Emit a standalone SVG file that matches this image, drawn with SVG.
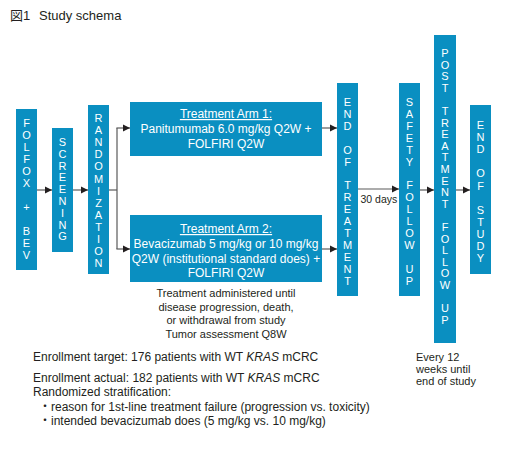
<svg xmlns="http://www.w3.org/2000/svg" width="506" height="449" viewBox="0 0 506 449">
<style>
text{font-family:"Liberation Sans","Noto Sans CJK JP",Arial,sans-serif;fill:#231f20}
.box{fill:#0a8fc1}
.v{font-size:11px;fill:#fff;text-anchor:middle}
.w{font-size:12px;fill:#fff;text-anchor:middle}
.c{font-size:11px;text-anchor:middle}
.t{font-size:12px}
.ln{stroke:#5a5a5a;stroke-width:1.2;fill:none}
</style>
<defs>
<marker id="ah" markerUnits="userSpaceOnUse" markerWidth="8" markerHeight="8" refX="7" refY="4" orient="auto">
<path d="M0,0.5 L7,4 L0,7.5 Z" fill="#231f20"/>
</marker>
</defs>
<rect width="506" height="449" fill="#fff"/>
<text x="10" y="20" style="font-size:13px">図1</text>
<text x="39" y="20" style="font-size:13px">Study schema</text>

<g id="folfox">
<rect class="box" x="16" y="109" width="21" height="161"/>
<text class="v"><tspan x="26.5" y="127">F</tspan><tspan x="26.5" y="139">O</tspan><tspan x="26.5" y="151">L</tspan><tspan x="26.5" y="163">F</tspan><tspan x="26.5" y="175">O</tspan><tspan x="26.5" y="187">X</tspan><tspan x="26.5" y="211">+</tspan><tspan x="26.5" y="235">B</tspan><tspan x="26.5" y="247">E</tspan><tspan x="26.5" y="259">V</tspan></text>
</g>
<g id="screening">
<rect class="box" x="52" y="128" width="21" height="124"/>
<text class="v"><tspan x="62.5" y="146">S</tspan><tspan x="62.5" y="157.8">C</tspan><tspan x="62.5" y="169.6">R</tspan><tspan x="62.5" y="181.4">E</tspan><tspan x="62.5" y="193.2">E</tspan><tspan x="62.5" y="205">N</tspan><tspan x="62.5" y="216.8">I</tspan><tspan x="62.5" y="228.6">N</tspan><tspan x="62.5" y="240.4">G</tspan></text>
</g>
<g id="randomization">
<rect class="box" x="88" y="105" width="21" height="169"/>
<text class="v"><tspan x="98.5" y="122">R</tspan><tspan x="98.5" y="134.1">A</tspan><tspan x="98.5" y="146.2">N</tspan><tspan x="98.5" y="158.3">D</tspan><tspan x="98.5" y="170.4">O</tspan><tspan x="98.5" y="182.5">M</tspan><tspan x="98.5" y="194.6">I</tspan><tspan x="98.5" y="206.7">Z</tspan><tspan x="98.5" y="218.8">A</tspan><tspan x="98.5" y="230.9">T</tspan><tspan x="98.5" y="243">I</tspan><tspan x="98.5" y="255.1">O</tspan><tspan x="98.5" y="267.2">N</tspan></text>
</g>
<g id="arm1">
<rect class="box" x="130" y="102" width="192" height="54"/>
<text class="w"><tspan x="226" y="118" text-decoration="underline">Treatment Arm 1:</tspan><tspan x="226" y="133">Panitumumab 6.0 mg/kg Q2W +</tspan><tspan x="226" y="147.5">FOLFIRI Q2W</tspan></text>
</g>
<g id="arm2">
<rect class="box" x="130" y="215" width="192" height="67"/>
<text class="w"><tspan x="226" y="233" text-decoration="underline">Treatment Arm 2:</tspan><tspan x="226" y="248">Bevacizumab 5 mg/kg or 10 mg/kg</tspan><tspan x="226" y="262.5">Q2W (institutional standard does) +</tspan><tspan x="226" y="277">FOLFIRI Q2W</tspan></text>
</g>
<g id="end-of-treatment">
<rect class="box" x="337" y="83" width="21" height="213"/>
<text class="v"><tspan x="347.5" y="106">E</tspan><tspan x="347.5" y="117.9">N</tspan><tspan x="347.5" y="129.8">D</tspan><tspan x="347.5" y="153.6">O</tspan><tspan x="347.5" y="165.5">F</tspan><tspan x="347.5" y="189.3">T</tspan><tspan x="347.5" y="201.2">R</tspan><tspan x="347.5" y="213.1">E</tspan><tspan x="347.5" y="225">A</tspan><tspan x="347.5" y="236.9">T</tspan><tspan x="347.5" y="248.8">M</tspan><tspan x="347.5" y="260.7">E</tspan><tspan x="347.5" y="272.6">N</tspan><tspan x="347.5" y="284.5">T</tspan></text>
</g>
<g id="safety-follow-up">
<rect class="box" x="399" y="83" width="21" height="213"/>
<text class="v"><tspan x="409.5" y="106">S</tspan><tspan x="409.5" y="117.9">A</tspan><tspan x="409.5" y="129.8">F</tspan><tspan x="409.5" y="141.7">E</tspan><tspan x="409.5" y="153.6">T</tspan><tspan x="409.5" y="165.5">Y</tspan><tspan x="409.5" y="189.3">F</tspan><tspan x="409.5" y="201.2">O</tspan><tspan x="409.5" y="213.1">L</tspan><tspan x="409.5" y="225">L</tspan><tspan x="409.5" y="236.9">O</tspan><tspan x="409.5" y="248.8">W</tspan><tspan x="409.5" y="272.6">U</tspan><tspan x="409.5" y="284.5">P</tspan></text>
</g>
<g id="post-treatment-follow-up">
<rect class="box" x="434" y="35" width="22" height="308"/>
<text class="v"><tspan x="445" y="57">P</tspan><tspan x="445" y="68.6">O</tspan><tspan x="445" y="80.2">S</tspan><tspan x="445" y="91.8">T</tspan><tspan x="445" y="115">T</tspan><tspan x="445" y="126.6">R</tspan><tspan x="445" y="138.2">E</tspan><tspan x="445" y="149.8">A</tspan><tspan x="445" y="161.4">T</tspan><tspan x="445" y="173">M</tspan><tspan x="445" y="184.6">E</tspan><tspan x="445" y="196.2">N</tspan><tspan x="445" y="207.8">T</tspan><tspan x="445" y="231">F</tspan><tspan x="445" y="242.6">O</tspan><tspan x="445" y="254.2">L</tspan><tspan x="445" y="265.8">L</tspan><tspan x="445" y="277.4">O</tspan><tspan x="445" y="289">W</tspan><tspan x="445" y="312.2">U</tspan><tspan x="445" y="323.8">P</tspan></text>
</g>
<g id="end-of-study">
<rect class="box" x="470" y="105" width="21" height="169"/>
<text class="v"><tspan x="480.5" y="129">E</tspan><tspan x="480.5" y="141.1">N</tspan><tspan x="480.5" y="153.2">D</tspan><tspan x="480.5" y="177.4">O</tspan><tspan x="480.5" y="189.5">F</tspan><tspan x="480.5" y="213.7">S</tspan><tspan x="480.5" y="225.8">T</tspan><tspan x="480.5" y="237.9">U</tspan><tspan x="480.5" y="250">D</tspan><tspan x="480.5" y="262.1">Y</tspan></text>
</g>

<g id="connectors">
<line class="ln" x1="37" y1="190" x2="52" y2="190" marker-end="url(#ah)"/>
<line class="ln" x1="73" y1="190" x2="88" y2="190" marker-end="url(#ah)"/>
<polyline class="ln" points="109,190 117,190"/>
<line class="ln" x1="117" y1="128" x2="117" y2="249"/>
<line class="ln" x1="116.4" y1="128" x2="130" y2="128" marker-end="url(#ah)"/>
<line class="ln" x1="116.4" y1="249" x2="130" y2="249" marker-end="url(#ah)"/>
<line class="ln" x1="322" y1="128" x2="337" y2="128" marker-end="url(#ah)"/>
<line class="ln" x1="322" y1="249" x2="337" y2="249" marker-end="url(#ah)"/>
<line class="ln" x1="358" y1="189" x2="399" y2="189" marker-end="url(#ah)"/>
<line class="ln" x1="420" y1="190" x2="434" y2="190" marker-end="url(#ah)"/>
<line class="ln" x1="456" y1="190" x2="470" y2="190" marker-end="url(#ah)"/>
<text x="360.5" y="203" style="font-size:10.5px">30 days</text>
</g>

<text class="c"><tspan x="226" y="297">Treatment administered until</tspan><tspan x="226" y="310.5">disease progression, death,</tspan><tspan x="226" y="324">or withdrawal from study</tspan><tspan x="226" y="337.5">Tumor assessment Q8W</tspan></text>
<text style="font-size:11px"><tspan x="416" y="361">Every 12</tspan><tspan x="416" y="373">weeks until</tspan><tspan x="416" y="385">end of study</tspan></text>
<text class="t" x="33" y="361">Enrollment target: 176 patients with WT <tspan font-style="italic">KRAS</tspan> mCRC</text>
<text class="t" x="33" y="382">Enrollment actual: 182 patients with WT <tspan font-style="italic">KRAS</tspan> mCRC</text>
<text class="t" x="33" y="396">Randomized stratification:</text>
<text class="t" x="39" y="411">・reason for 1st-line treatment failure (progression vs. toxicity)</text>
<text class="t" x="39" y="425">・intended bevacizumab does (5 mg/kg vs. 10 mg/kg)</text>
</svg>
